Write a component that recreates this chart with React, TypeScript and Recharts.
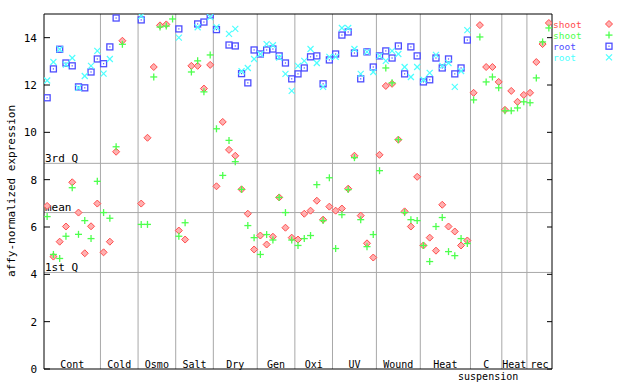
import React from 'react';
import { ScatterChart, Scatter, XAxis, YAxis, ReferenceLine } from 'recharts';

// ---- categories (sample slots per treatment) ----
const categories = ['Cont', 'Cold', 'Osmo', 'Salt', 'Dry', 'Gen', 'Oxi', 'UV', 'Wound', 'Heat', 'C suspension', 'Heat', 'rec'];
const categorySizes = [9, 6, 6, 6, 7, 6, 6, 7, 7, 8, 5, 4, 4];

// ---- reference statistics ----
const quartile3 = 8.69;
const meanValue = 6.61;
const quartile1 = 4.08;

const yTicks = [0, 2, 4, 6, 8, 10, 12, 14];

// ---- series: [sample slot, value] ----
const shootRed: [number, number][] = [
  [0, 6.89], [1, 4.75], [2, 5.38], [3, 6.02], [4, 7.89], [5, 6.61], [6, 4.89], [7, 6.03], [8, 6.99],
  [9, 4.93], [10, 5.38], [11, 9.18], [12, 13.87],
  [15, 6.99], [16, 9.77], [17, 12.76], [18, 14.52], [19, 14.56],
  [21, 5.85], [22, 5.47], [23, 12.81], [24, 12.81], [25, 11.85], [26, 12.85],
  [27, 7.72], [28, 10.44], [29, 9.26], [30, 9.01], [31, 7.59], [32, 6.56], [33, 5.05],
  [34, 5.64], [35, 5.26], [36, 5.59], [37, 7.25], [38, 5.97], [39, 5.55],
  [40, 5.47], [41, 6.56], [42, 6.69], [43, 7.11], [44, 6.31], [45, 6.86],
  [46, 6.69], [47, 6.78], [48, 7.62], [49, 9.01], [50, 6.48], [51, 5.31], [52, 4.71],
  [53, 9.05], [54, 11.96], [55, 12.05], [56, 9.69], [57, 6.66], [58, 6.02], [59, 8.12],
  [60, 5.22], [61, 5.55], [62, 5.0], [63, 6.94], [64, 6.02], [65, 5.81], [66, 5.22], [67, 5.43],
  [68, 11.67], [69, 14.53], [70, 12.76], [71, 12.76], [72, 12.13],
  [73, 10.95], [74, 11.75], [75, 11.29], [76, 11.58],
  [77, 11.67], [78, 12.97], [79, 13.73], [80, 14.62],
];

const shootGreen: [number, number][] = [
  [0, 6.44], [1, 4.84], [2, 4.67], [3, 5.61], [4, 7.66], [5, 5.69], [6, 6.27], [7, 5.51], [8, 7.93],
  [9, 6.61], [10, 6.37], [11, 9.39], [12, 13.72],
  [15, 6.11], [16, 6.11], [17, 12.34], [18, 14.45], [19, 14.49], [20, 14.79],
  [21, 5.61], [22, 6.18], [23, 12.55], [24, 13.02], [25, 11.71], [26, 13.27],
  [27, 10.15], [28, 8.18], [29, 9.66], [30, 8.76], [31, 7.59], [32, 6.06], [33, 5.55],
  [34, 4.84], [35, 5.68], [36, 5.45], [37, 7.25], [38, 6.61], [39, 5.45],
  [40, 5.22], [41, 5.51], [42, 5.64], [43, 7.79], [44, 6.27], [45, 8.08],
  [46, 5.09], [47, 6.52], [48, 7.58], [49, 8.93], [50, 6.31], [51, 5.17], [52, 5.68],
  [53, 8.38], [54, 12.72], [55, 12.09], [56, 9.69], [57, 6.61], [58, 6.31], [59, 6.27],
  [60, 5.22], [61, 4.54], [62, 6.02], [63, 6.4], [64, 4.96], [65, 4.79], [66, 5.51], [67, 5.3],
  [68, 11.37], [69, 14.03], [70, 12.13], [71, 12.34], [72, 11.88],
  [73, 10.91], [74, 10.91], [75, 11.03], [76, 11.29],
  [77, 11.25], [78, 12.3], [79, 13.82], [80, 14.41],
];

const rootBlue: [number, number][] = [
  [0, 11.46], [1, 12.68], [2, 13.51], [3, 12.93], [4, 12.81], [5, 11.92], [6, 11.88], [7, 12.55], [8, 13.1],
  [9, 12.9], [10, 13.61], [11, 14.83],
  [15, 14.75],
  [21, 14.37], [24, 14.58], [25, 14.66], [26, 14.96],
  [27, 14.34], [29, 13.69], [30, 13.65], [31, 12.48], [32, 12.09], [33, 13.48],
  [34, 13.31], [35, 13.48], [36, 13.52], [37, 13.23], [38, 12.93], [39, 12.26],
  [40, 12.47], [41, 12.72], [42, 13.19], [43, 13.23], [44, 12.05], [45, 13.06],
  [46, 13.31], [47, 14.11], [48, 14.24], [49, 13.35], [50, 12.26], [51, 13.4], [52, 12.76],
  [53, 13.23], [54, 13.44], [55, 13.14], [56, 13.65], [57, 12.47], [58, 13.61], [59, 13.23],
  [60, 12.13], [61, 12.22], [62, 13.14], [63, 12.72], [64, 13.1], [65, 12.47], [66, 12.72], [67, 13.9],
];

const rootCyan: [number, number][] = [
  [0, 12.19], [1, 12.97], [2, 13.51], [3, 12.86], [4, 13.14], [5, 11.88], [6, 12.38], [7, 12.81], [8, 13.44],
  [9, 12.48], [10, 13.1],
  [15, 14.91],
  [21, 14.0], [24, 14.44], [26, 14.87],
  [27, 14.44], [29, 14.16], [30, 14.37], [31, 12.58], [32, 12.72], [33, 13.1],
  [34, 13.31], [35, 13.73], [36, 13.68], [37, 13.16], [38, 12.47], [39, 11.75],
  [40, 12.81], [41, 13.02], [42, 13.52], [43, 12.93], [44, 11.92], [45, 13.19],
  [46, 13.19], [47, 14.41], [48, 14.41], [49, 13.52], [50, 12.47], [51, 13.4], [52, 12.55],
  [53, 13.23], [54, 13.02], [55, 13.44], [56, 13.31], [57, 12.76], [58, 12.34], [59, 12.76],
  [60, 12.22], [61, 12.51], [62, 13.27], [63, 12.81], [64, 12.93], [65, 11.92], [66, 12.59], [67, 14.32],
];

// ---- styles ----
const FONT = '"DejaVu Sans Mono", "Liberation Mono", monospace';
const RED = '#ff4d4d';
const GREEN = '#4dff4d';
const BLUE = '#4d4dff';
const CYAN = '#4dffff';
const GRID = '#a8a8a8';

const totalSlots = categorySizes.reduce((a, b) => a + b, 0);
const boundaries: number[] = [];
const centers: number[] = [];
{
  let acc = 0;
  categorySizes.forEach((n, i) => {
    centers.push(acc + n / 2);
    acc += n;
    if (i < categorySizes.length - 1) boundaries.push(acc);
  });
}

const toPoints = (arr: [number, number][]) => arr.map(([s, v]) => ({ x: s + 0.5, y: v }));

const Diamond = (p: any) => {
  const { cx, cy } = p;
  if (cx == null || cy == null) return <g />;
  return (
    <polygon
      points={`${cx},${cy - 3.5} ${cx + 3.5},${cy} ${cx},${cy + 3.5} ${cx - 3.5},${cy}`}
      fill="#ffb0b0"
      stroke={RED}
      strokeWidth={1}
    />
  );
};
const Plus = (p: any) => {
  const { cx, cy } = p;
  if (cx == null || cy == null) return <g />;
  return (
    <g stroke={GREEN} strokeWidth={1.3}>
      <line x1={cx - 3.5} x2={cx + 3.5} y1={cy} y2={cy} />
      <line x1={cx} x2={cx} y1={cy - 3.5} y2={cy + 3.5} />
    </g>
  );
};
const Square = (p: any) => {
  const { cx, cy } = p;
  if (cx == null || cy == null) return <g />;
  return (
    <g>
      <rect x={cx - 3} y={cy - 3} width={6} height={6} fill="none" stroke={BLUE} strokeWidth={1.3} />
      <rect x={cx - 0.6} y={cy - 0.6} width={1.2} height={1.2} fill={BLUE} />
    </g>
  );
};
const Cross = (p: any) => {
  const { cx, cy } = p;
  if (cx == null || cy == null) return <g />;
  return (
    <g stroke={CYAN} strokeWidth={1.2}>
      <line x1={cx - 3} x2={cx + 3} y1={cy - 3} y2={cy + 3} />
      <line x1={cx - 3} x2={cx + 3} y1={cy + 3} y2={cy - 3} />
    </g>
  );
};

const YTick = (props: any) => {
  const { y, payload } = props;
  return (
    <g>
      <text x={37} y={y} dy={4} textAnchor="end" fontFamily={FONT} fontSize={11} fill="#000">
        {payload.value}
      </text>
      <line x1={44} x2={50} y1={y} y2={y} stroke="#000" strokeWidth={1} />
      <line x1={547} x2={552} y1={y} y2={y} stroke="#000" strokeWidth={1} />
    </g>
  );
};

const XTick = (props: any) => {
  const { x, y, index } = props;
  const label: string = categories[index] ?? '';
  const parts = label.split(' ');
  return (
    <g>
      {parts.map((t, i) => (
        <text
          key={i}
          x={x + (i === 0 ? 0 : 2)}
          y={y - 1 + i * 12}
          textAnchor="middle"
          fontFamily={FONT}
          fontSize={10}
          fill="#000"
        >
          {t}
        </text>
      ))}
    </g>
  );
};

const statLabel = (text: string) => (props: any) => {
  const { viewBox } = props;
  return (
    <text x={viewBox.x + 1} y={viewBox.y - 1.5} fontFamily={FONT} fontSize={11} fill="#000">
      {text}
    </text>
  );
};

const legendRows = [
  { text: 'shoot', color: RED, Shape: Diamond },
  { text: 'shoot', color: GREEN, Shape: Plus },
  { text: 'root', color: BLUE, Shape: Square },
  { text: 'root', color: CYAN, Shape: Cross },
];

const LEGEND_STEP = 11.1;

export default function App() {
  return (
    <div style={{ position: 'absolute', left: 0, top: 0, width: 640, height: 384, background: '#fff' }}>
      <ScatterChart width={640} height={384} margin={{ top: 14, right: 88, bottom: 0, left: 0 }}>
        <XAxis
          type="number"
          dataKey="x"
          domain={[0, totalSlots]}
          ticks={centers}
          interval={0}
          height={15}
          tick={<XTick />}
          tickLine={false}
          tickSize={0}
          tickMargin={0}
          axisLine={{ stroke: '#000' }}
          allowDataOverflow
        />
        <YAxis
          type="number"
          dataKey="y"
          domain={[0, 15]}
          ticks={yTicks}
          interval={0}
          width={44}
          tick={<YTick />}
          tickLine={false}
          axisLine={{ stroke: '#000' }}
          allowDataOverflow
        />
        {boundaries.map((b) => (
          <ReferenceLine key={'b' + b} x={b} stroke={GRID} strokeWidth={1} />
        ))}
        <ReferenceLine y={quartile3} stroke={GRID} label={statLabel('3rd Q')} />
        <ReferenceLine y={meanValue} stroke={GRID} label={statLabel('mean')} />
        <ReferenceLine y={quartile1} stroke={GRID} label={statLabel('1st Q')} />
        <ReferenceLine y={15} stroke="#000" />
        <ReferenceLine x={totalSlots} stroke="#000" />
        <Scatter data={toPoints(shootRed)} shape={<Diamond />} isAnimationActive={false} />
        <Scatter data={toPoints(shootGreen)} shape={<Plus />} isAnimationActive={false} />
        <Scatter data={toPoints(rootBlue)} shape={<Square />} isAnimationActive={false} />
        <Scatter data={toPoints(rootCyan)} shape={<Cross />} isAnimationActive={false} />
      </ScatterChart>
      <svg width={640} height={384} style={{ position: 'absolute', left: 0, top: 0, pointerEvents: 'none' }}>
        <text
          transform="translate(15,191) rotate(-90)"
          textAnchor="middle"
          fontFamily={FONT}
          fontSize={11}
          fill="#000"
        >
          affy-normalized expression
        </text>
        {legendRows.map((r, i) => (
          <g key={i}>
            <text x={553} y={27.5 + i * LEGEND_STEP} fontFamily={FONT} fontSize={9.5} fill={r.color}>
              {r.text}
            </text>
            <r.Shape cx={609} cy={24 + i * LEGEND_STEP} />
          </g>
        ))}
      </svg>
    </div>
  );
}
